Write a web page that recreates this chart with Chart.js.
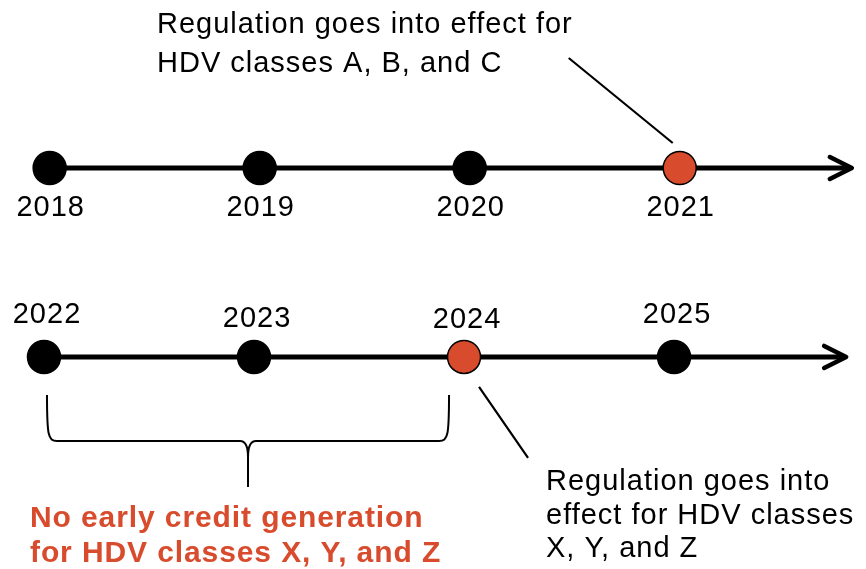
<!DOCTYPE html>
<html>
<head>
<meta charset="utf-8">
<title>HDV regulation timeline</title>
<script src="https://cdn.jsdelivr.net/npm/chart.js@4.4.1/dist/chart.umd.min.js"></script>
<style>
  html, body { margin: 0; padding: 0; background: #fff; }
  #wrap { width: 866px; height: 569px; position: relative; }
</style>
</head>
<body>
<div id="wrap"><canvas id="timeline"></canvas></div>
<script>
// --- data ---------------------------------------------------------------
const topYears = ['2018', '2019', '2020', '2021'];
const bottomYears = ['2022', '2023', '2024', '2025'];
const effectiveYears = ['2021', '2024'];   // red dots
const gapFrom = '2022';
const gapTo = '2024';

const topNote = ['Regulation goes into effect for', 'HDV classes A, B, and C'];
const bottomNote = ['Regulation goes into', 'effect for HDV classes', 'X, Y, and Z'];
const gapNote = ['No early credit generation', 'for HDV classes X, Y, and Z'];

// --- look ---------------------------------------------------------------
const RED = '#D84B2C';
const INK = '#000';
const FONT = '"Liberation Sans", Arial, Helvetica, sans-serif';
const TOP_ROW = 1, BOTTOM_ROW = 0;
const TOP_SHIFT = 0.027;     // top row sits a few px right of the bottom one
const ARROW_END = 3.81;      // where each axis line stops (in year slots)
const bottomLabelDy = [-34, -30, -29, -34];

function rowPoints(years, row, shift) {
  return years.map((yr, i) => ({ x: i + shift, y: row, year: yr }));
}

const topPts = rowPoints(topYears, TOP_ROW, TOP_SHIFT);
const bottomPts = rowPoints(bottomYears, BOTTOM_ROW, 0);

function dotColors(pts) {
  return pts.map(p => effectiveYears.includes(p.year) ? RED : INK);
}

function axisLine(row, shift) {
  return {
    type: 'line',
    data: [{ x: shift, y: row }, { x: ARROW_END + shift, y: row }],
    borderColor: INK,
    borderWidth: 5,
    pointRadius: 0,
    order: 2,
  };
}

function dots(pts) {
  return {
    type: 'scatter',
    data: pts,
    pointRadius: 16.5,
    pointHoverRadius: 16.5,
    pointBackgroundColor: dotColors(pts),
    pointBorderColor: INK,
    pointBorderWidth: 1.5,
    order: 1,
  };
}

function drawLines(ctx, lines, left, baselines) {
  lines.forEach((t, i) => ctx.fillText(t, left, baselines[i]));
}

// arrows, year labels, leader lines, brace and notes
const annotations = {
  id: 'annotations',
  afterDatasetsDraw(chart) {
    const { ctx, scales: { x, y } } = chart;
    ctx.save();
    ctx.strokeStyle = INK;
    ctx.fillStyle = INK;

    // arrowheads
    [[TOP_ROW, TOP_SHIFT], [BOTTOM_ROW, 0]].forEach(([row, shift]) => {
      const tx = x.getPixelForValue(ARROW_END + shift) + 2;
      const ty = y.getPixelForValue(row);
      ctx.beginPath();
      ctx.lineWidth = 4.5;
      ctx.lineCap = 'round';
      ctx.lineJoin = 'round';
      ctx.moveTo(tx - 22, ty - 11);
      ctx.lineTo(tx, ty);
      ctx.lineTo(tx - 22, ty + 11);
      ctx.stroke();
    });

    // year labels
    ctx.font = '29px ' + FONT;
    ctx.letterSpacing = '1px';
    ctx.textAlign = 'center';
    ctx.textBaseline = 'alphabetic';
    topPts.forEach(p => {
      ctx.fillText(p.year, x.getPixelForValue(p.x) + 1, y.getPixelForValue(p.y) + 48);
    });
    bottomPts.forEach((p, i) => {
      ctx.fillText(p.year, x.getPixelForValue(p.x) + 3, y.getPixelForValue(p.y) + bottomLabelDy[i]);
    });

    // leader lines from the red dots
    const topRed = topPts.find(p => p.year === effectiveYears[0]);
    const botRed = bottomPts.find(p => p.year === effectiveYears[1]);
    const tr = { x: x.getPixelForValue(topRed.x), y: y.getPixelForValue(topRed.y) };
    const br = { x: x.getPixelForValue(botRed.x), y: y.getPixelForValue(botRed.y) };
    ctx.lineWidth = 2.2;
    ctx.lineCap = 'butt';
    ctx.beginPath();
    ctx.moveTo(tr.x - 111, tr.y - 110);
    ctx.lineTo(tr.x - 7, tr.y - 25);
    ctx.moveTo(br.x + 15, br.y + 30);
    ctx.lineTo(br.x + 64, br.y + 101);
    ctx.stroke();

    // brace under the gap years
    const gf = bottomPts.find(p => p.year === gapFrom);
    const gt = bottomPts.find(p => p.year === gapTo);
    const L = x.getPixelForValue(gf.x) + 3;
    const R = x.getPixelForValue(gt.x) - 15;
    const C = (L + R) / 2;
    const base = y.getPixelForValue(BOTTOM_ROW);
    const top = base + 38, hy = base + 84, tip = base + 130;
    ctx.lineWidth = 2;
    ctx.beginPath();
    ctx.moveTo(L, top);
    ctx.bezierCurveTo(L, hy - 6, L + 1, hy, L + 10, hy);
    ctx.lineTo(C - 8, hy);
    ctx.bezierCurveTo(C - 2, hy, C, hy + 6, C, hy + 16);
    ctx.lineTo(C, tip);
    ctx.moveTo(C, hy + 16);
    ctx.bezierCurveTo(C, hy + 6, C + 2, hy, C + 8, hy);
    ctx.lineTo(R - 10, hy);
    ctx.bezierCurveTo(R - 1, hy, R, hy - 6, R, top);
    ctx.stroke();

    // notes
    const a = chart.chartArea;
    ctx.textAlign = 'left';
    ctx.font = '29px ' + FONT;
    ctx.letterSpacing = '1px';
    drawLines(ctx, topNote, a.left + 157, [a.top + 33, a.top + 72]);
    drawLines(ctx, bottomNote, a.left + 546, [a.top + 490, a.top + 524, a.top + 557]);

    ctx.fillStyle = RED;
    ctx.font = 'bold 30px ' + FONT;
    ctx.letterSpacing = '0.9px';
    drawLines(ctx, gapNote, a.left + 30, [a.top + 527, a.top + 562]);

    ctx.restore();
  }
};

new Chart(document.getElementById('timeline'), {
  type: 'scatter',
  data: {
    datasets: [
      dots(topPts),
      dots(bottomPts),
      axisLine(TOP_ROW, TOP_SHIFT),
      axisLine(BOTTOM_ROW, 0),
    ],
  },
  options: {
    responsive: true,
    maintainAspectRatio: false,
    animation: false,
    layout: { padding: 0, autoPadding: false },
    events: [],
    plugins: {
      legend: { display: false },
      tooltip: { enabled: false },
    },
    scales: {
      x: { type: 'linear', display: false, min: -0.2095, max: 3.914 },
      y: { type: 'linear', display: false, min: -1.122, max: 1.889 },
    },
  },
  plugins: [annotations],
});
</script>
</body>
</html>
